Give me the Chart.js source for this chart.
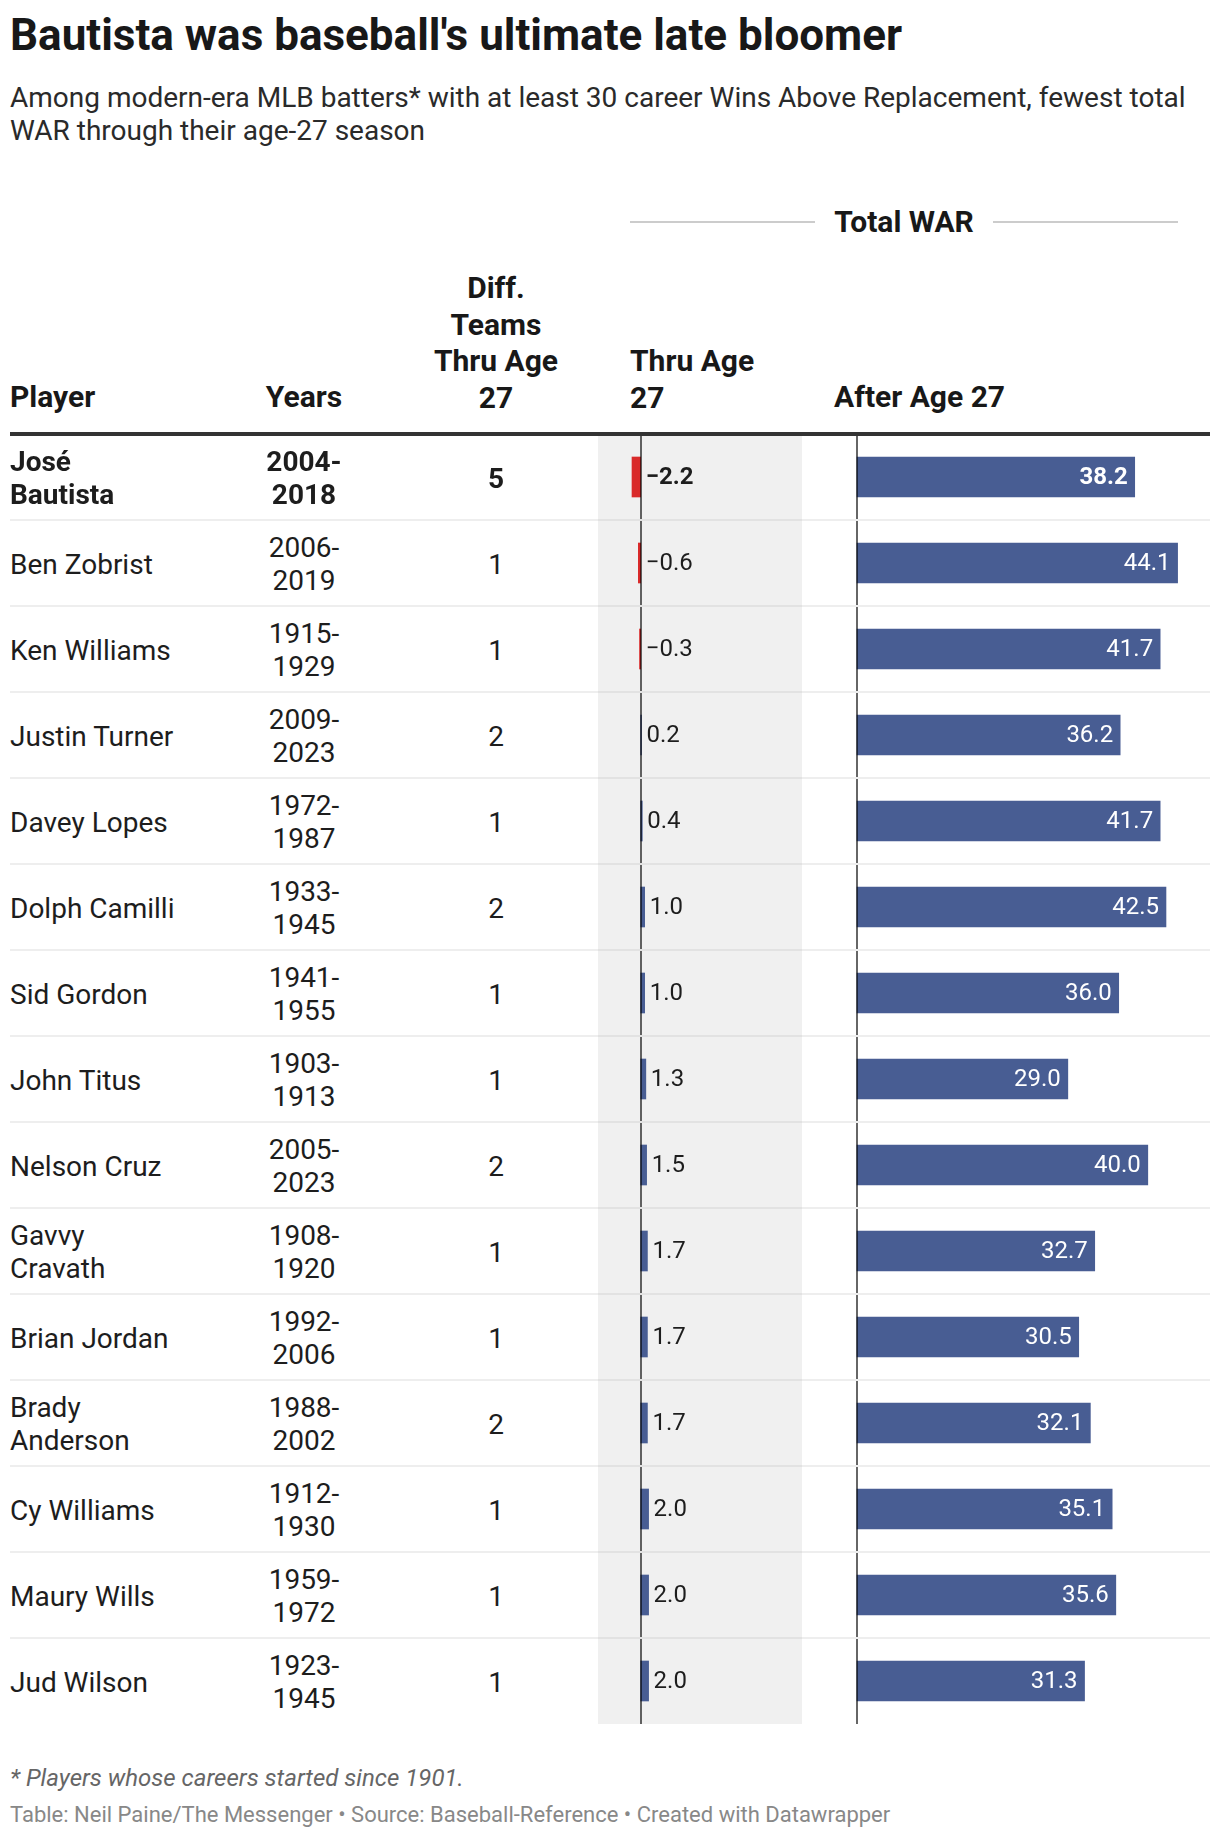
<!DOCTYPE html>
<html>
<head>
<meta charset="utf-8">
<script src="https://cdn.jsdelivr.net/npm/chart.js@4.4.1/dist/chart.umd.min.js"></script>
<style>
body{margin:0;width:1220px;height:1838px;background:#fff;font-family:Roboto,sans-serif;color:#1d1d1d;position:relative;overflow:hidden}
.abs{position:absolute;white-space:nowrap}
#title{left:10px;top:9px;font-size:44px;line-height:52px;font-weight:700;color:#181818}
#subtitle{left:10px;top:81px;width:1200px;font-size:28px;line-height:33px;white-space:normal;color:#2a2a2a}
.hd{font-size:30px;font-weight:700;line-height:36.5px;color:#181818}
.cell{position:absolute;display:flex;align-items:center;font-size:28px;line-height:33px;height:86px}
.rule{position:absolute;height:2px}
#note{left:10px;top:1763px;font-size:24px;line-height:30px;font-style:italic;color:#666}
#source{left:10px;top:1800px;font-size:22px;line-height:30px;color:#888}
canvas{position:absolute}
</style>
</head>
<body>
<div class="abs" id="title">Bautista was baseball's ultimate late bloomer</div>
<div class="abs" id="subtitle">Among modern-era MLB batters* with at least 30 career Wins Above Replacement, fewest total WAR through their age-27 season</div>

<!-- spanner header -->
<div class="abs" style="left:630px;top:221px;width:185px;height:2px;background:#ccc"></div>
<div class="abs" style="left:993px;top:221px;width:185px;height:2px;background:#ccc"></div>
<div class="abs hd" style="left:815px;width:178px;text-align:center;top:207px;line-height:30px">Total WAR</div>

<!-- column headers -->
<div class="abs hd" style="left:10px;top:379px">Player</div>
<div class="abs hd" style="left:244px;width:120px;text-align:center;top:379px">Years</div>
<div class="abs hd" style="left:416px;width:160px;text-align:center;top:270px">Diff.<br>Teams<br>Thru Age<br>27</div>
<div class="abs hd" style="left:630px;top:343px">Thru Age<br>27</div>
<div class="abs hd" style="left:834px;top:379px">After Age 27</div>

<div class="abs" id="band" style="left:598px;top:436px;width:204px;height:1288px;background:#f0f0f0"></div>
<canvas id="thruChart" width="204" height="1290" style="left:598px;top:434px"></canvas>
<canvas id="afterChart" width="373" height="1290" style="left:847px;top:434px"></canvas>
<div class="abs" style="left:10px;top:432px;width:1200px;height:4px;background:#333"></div>
<div id="rows"></div>

<div class="abs" id="note">* Players whose careers started since 1901.</div>
<div class="abs" id="source">Table: Neil Paine/The Messenger • Source: Baseball-Reference • Created with Datawrapper</div>

<script>
// table data
const players = ["José Bautista","Ben Zobrist","Ken Williams","Justin Turner","Davey Lopes","Dolph Camilli","Sid Gordon","John Titus","Nelson Cruz","Gavvy Cravath","Brian Jordan","Brady Anderson","Cy Williams","Maury Wills","Jud Wilson"];
const years = ["2004-2018","2006-2019","1915-1929","2009-2023","1972-1987","1933-1945","1941-1955","1903-1913","2005-2023","1908-1920","1992-2006","1988-2002","1912-1930","1959-1972","1923-1945"];
const teams = [5,1,1,2,1,2,1,1,2,1,1,2,1,1,1];

// WAR through age 27 and after age 27
const thruAge27 = [-2.2,-0.6,-0.3,0.2,0.4,1.0,1.0,1.3,1.5,1.7,1.7,1.7,2.0,2.0,2.0];
const afterAge27 = [38.2,44.1,41.7,36.2,41.7,42.5,36.0,29.0,40.0,32.7,30.5,32.1,35.1,35.6,31.3];

const BLUE = "#485d93";
const RED = "#d92a2a";
const TOP = 434, ROW = 86;

function fmt(v){
  return (v < 0 ? "\u2212" : "") + Math.abs(v).toFixed(1);
}

// text columns and row rules
const rows = document.getElementById("rows");
players.forEach((p, i) => {
  const top = TOP + i*ROW + 1;
  const w = i === 0 ? 700 : 400;
  const yr = years[i].split("-");
  rows.insertAdjacentHTML("beforeend",
    `<div class="cell" style="left:10px;top:${top}px;width:170px;font-weight:${w}">${p}</div>` +
    `<div class="cell" style="left:244px;top:${top}px;width:120px;justify-content:center;text-align:center;font-weight:${w}">${yr[0]}-<br>${yr[1]}</div>` +
    `<div class="cell" style="left:446px;top:${top}px;width:100px;justify-content:center;font-weight:${w}">${teams[i]}</div>`);
  if (i > 0) {
    rows.insertAdjacentHTML("beforeend",
      `<div class="rule" style="left:10px;width:1200px;top:${top-2}px;background:#eee"></div>` +
      `<div class="rule" style="left:598px;width:204px;top:${top-2}px;background:#e2e2e2"></div>`);
  }
});

const zeroLine = {
  id: "zeroLine",
  afterDatasetsDraw(chart) {
    const ctx = chart.ctx, x = Math.round(chart.scales.x.getPixelForValue(0));
    ctx.save();
    ctx.fillStyle = "rgba(0,0,0,0.6)";
    ctx.fillRect(x - 1, 2, 2, chart.height - 2);
    ctx.restore();
  }
};

const barLabels = {
  id: "barLabels",
  afterDraw(chart, args, opts) {
    const ctx = chart.ctx;
    const meta = chart.getDatasetMeta(0);
    const vals = chart.data.datasets[0].data;
    ctx.save();
    ctx.textBaseline = "middle";
    meta.data.forEach((bar, i) => {
      ctx.font = (i === 0 ? "bold " : "") + "24px Roboto";
      if (opts.inside) {
        ctx.fillStyle = "#fff";
        ctx.textAlign = "right";
        ctx.fillText(fmt(vals[i]), bar.x - 7, bar.y + 1);
      } else {
        ctx.fillStyle = "#1d1d1d";
        ctx.textAlign = "left";
        ctx.fillText(fmt(vals[i]), Math.max(bar.x, bar.base) + 5, bar.y + 1);
      }
    });
    ctx.restore();
  }
};

function barChart(id, values, colors, min, max, inside) {
  return new Chart(document.getElementById(id), {
    type: "bar",
    data: {
      labels: players,
      datasets: [{ data: values, backgroundColor: colors, barThickness: 40, borderWidth: 0 }]
    },
    options: {
      indexAxis: "y",
      responsive: false,
      animation: false,
      layout: { padding: 0 },
      plugins: { legend: { display: false }, tooltip: { enabled: false }, barLabels: { inside: inside } },
      scales: {
        x: { type: "linear", min: min, max: max, display: false },
        y: { display: false }
      }
    },
    plugins: [zeroLine, barLabels]
  });
}

barChart("thruChart", thruAge27, thruAge27.map(v => v < 0 ? RED : BLUE), -10.8, 40.8, false);
barChart("afterChart", afterAge27, BLUE, -10/7.27, 363/7.27, true);
</script>
</body>
</html>
